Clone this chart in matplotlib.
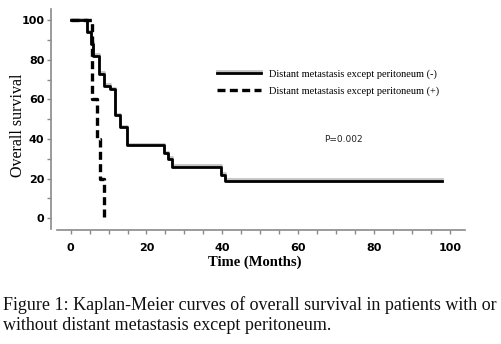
import matplotlib
matplotlib.use("Agg")
import matplotlib.pyplot as plt
import matplotlib.patheffects as pe
from matplotlib.ticker import MultipleLocator

# Kaplan-Meier steps (months, % surviving)
neg_time = [0, 4.3, 5.3, 6.0, 7.6, 8.9, 10.4, 11.7, 13.1, 14.8, 24.6, 25.6, 26.6, 39.6, 40.7, 98]
neg_surv = [100, 94, 88, 82, 73, 67, 65, 52, 46, 37, 33, 30, 26, 22, 19, 19]
pos_time = [0, 5.6, 6.9, 7.8, 8.9]
pos_surv = [100, 60, 40, 20, 0]

labels = ['Distant metastasis except peritoneum (-)',
          'Distant metastasis except peritoneum (+)']
p_text = 'P=0.002'
caption = ('Figure 1: Kaplan-Meier curves of overall survival in patients with or\n'
           'without distant metastasis except peritoneum.')

fig = plt.figure(figsize=(5.02, 3.44), dpi=100)
ax = fig.add_axes([57 / 502, 1 - 229 / 344, 408 / 502, 220 / 344])

shadow = [pe.SimpleLineShadow(offset=(0, 1.0), shadow_color='#aaaaaa', alpha=0.7), pe.Normal()]
l1, = ax.step(neg_time, neg_surv, where='post', color='black', lw=2.0,
              path_effects=shadow, label=labels[0])
l2, = ax.step(pos_time, pos_surv, where='post', color='black', lw=2.4,
              linestyle=(0, (2.4, 1.3)), label=labels[1])

ax.set_xlim(-3.6, 104)
ax.set_ylim(-5.4, 105.6)

for s in ['top', 'right']:
    ax.spines[s].set_visible(False)
ax.spines['left'].set_position(('outward', 4))
ax.spines['bottom'].set_position(('outward', 1))
for s in ['left', 'bottom']:
    ax.spines[s].set_color('#8a8a8a')
    ax.spines[s].set_linewidth(1.2)

ax.xaxis.set_major_locator(MultipleLocator(20))
ax.xaxis.set_minor_locator(MultipleLocator(5))
ax.yaxis.set_major_locator(MultipleLocator(20))
ax.yaxis.set_minor_locator(MultipleLocator(10))
ax.tick_params(which='both', color='#8a8a8a', width=1, direction='out', length=3)
ax.tick_params(axis='x', which='major', pad=6)
ax.tick_params(axis='y', which='major', pad=2)
for lab in ax.get_xticklabels() + ax.get_yticklabels():
    lab.set_fontweight('bold')
    lab.set_fontsize(8)
    lab.set_family('DejaVu Sans')

ax.set_xlabel('Time (Months)', family='Liberation Serif', fontweight='bold', fontsize=10.5)
ax.xaxis.set_label_coords(255 / 502, 1 - 256 / 344, transform=fig.transFigure)
ax.set_ylabel('Overall survival', family='Liberation Serif', fontsize=11.5)
ax.yaxis.set_label_coords(26 / 502, 1 - 125 / 344, transform=fig.transFigure)

ax.text(72, 40, p_text, ha='center', va='center', fontsize=6.5,
        family='DejaVu Sans', color='#222222')

ax.legend(handles=[l1, l2], loc='upper left', bbox_to_anchor=(217 / 502, 1 - 69 / 344),
          bbox_transform=fig.transFigure, frameon=False, borderpad=0, borderaxespad=0,
          prop={'family': 'Liberation Serif', 'size': 7.5}, handlelength=4.2,
          handletextpad=0.8, labelspacing=0.7)

fig.text(3 / 502, 1 - 296 / 344, caption, ha='left', va='top', fontsize=13,
         family='Liberation Serif', linespacing=1.25, color='#111111')

fig.savefig('out.png', dpi=100)
